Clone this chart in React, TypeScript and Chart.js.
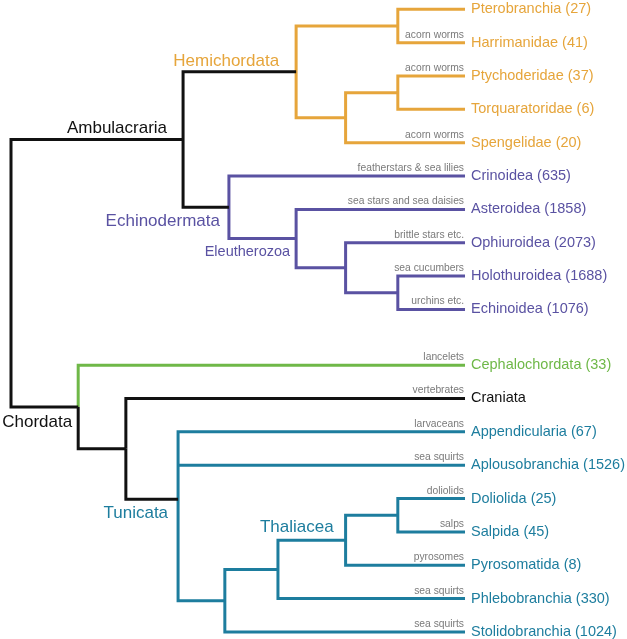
import React, { useEffect, useRef } from 'react';
import { Chart, registerables } from 'chart.js';

Chart.register(...registerables);

// ---- Leaves (top to bottom) ----
const leafNames = [
  'Pterobranchia', 'Harrimanidae', 'Ptychoderidae', 'Torquaratoridae', 'Spengelidae',
  'Crinoidea', 'Asteroidea', 'Ophiuroidea', 'Holothuroidea', 'Echinoidea',
  'Cephalochordata', 'Craniata', 'Appendicularia', 'Aplousobranchia',
  'Doliolida', 'Salpida', 'Pyrosomatida', 'Phlebobranchia', 'Stolidobranchia',
];
const speciesCounts: (number | null)[] = [
  27, 41, 37, 6, 20,
  635, 1858, 2073, 1688, 1076,
  33, null, 67, 1526,
  25, 45, 8, 330, 1024,
];
const commonNames = [
  '', 'acorn worms', 'acorn worms', '', 'acorn worms',
  'featherstars & sea lilies', 'sea stars and sea daisies', 'brittle stars etc.', 'sea cucumbers', 'urchins etc.',
  'lancelets', 'vertebrates', 'larvaceans', 'sea squirts',
  'doliolids', 'salps', 'pyrosomes', 'sea squirts', 'sea squirts',
];
const leafClades = [
  'Hemichordata', 'Hemichordata', 'Hemichordata', 'Hemichordata', 'Hemichordata',
  'Echinodermata', 'Echinodermata', 'Echinodermata', 'Echinodermata', 'Echinodermata',
  'Cephalochordata', 'Craniata', 'Tunicata', 'Tunicata',
  'Tunicata', 'Tunicata', 'Tunicata', 'Tunicata', 'Tunicata',
];
const leafDepth = 100; // tips

// ---- Internal nodes ----
const nodeNames = [
  'Root', 'Ambulacraria', 'Hemichordata', 'HemiA', 'HemiB', 'HemiC',
  'Echinodermata', 'Eleutherozoa', 'EchA', 'EchB',
  'Chordata', 'Olfactores', 'Tunicata', 'TunA', 'TunB', 'Thaliacea', 'ThalA',
];
const nodeChildren = [
  ['Ambulacraria', 'Chordata'],
  ['Hemichordata', 'Echinodermata'],
  ['HemiA', 'HemiB'],
  ['Pterobranchia', 'Harrimanidae'],
  ['HemiC', 'Spengelidae'],
  ['Ptychoderidae', 'Torquaratoridae'],
  ['Crinoidea', 'Eleutherozoa'],
  ['Asteroidea', 'EchA'],
  ['Ophiuroidea', 'EchB'],
  ['Holothuroidea', 'Echinoidea'],
  ['Cephalochordata', 'Olfactores'],
  ['Craniata', 'Tunicata'],
  ['Appendicularia', 'Aplousobranchia', 'TunA'],
  ['TunB', 'Stolidobranchia'],
  ['Thaliacea', 'Phlebobranchia'],
  ['ThalA', 'Pyrosomatida'],
  ['Doliolida', 'Salpida'],
];
const nodeDepths = [
  0, 37.9, 62.8, 85.2, 73.7, 85.2,
  48.0, 62.8, 73.7, 85.2,
  14.8, 25.3, 36.8, 47.1, 58.8, 73.7, 85.2,
];
// clade used to colour the stem leading into each internal node
const nodeStemClades = [
  'Other', 'Other', 'Other', 'Hemichordata', 'Hemichordata', 'Hemichordata',
  'Other', 'Echinodermata', 'Echinodermata', 'Echinodermata',
  'Other', 'Other', 'Other', 'Tunicata', 'Tunicata', 'Tunicata', 'Tunicata',
];

// ---- Clade labels ----
const cladeLabelTexts = ['Ambulacraria', 'Hemichordata', 'Echinodermata', 'Eleutherozoa', 'Chordata', 'Tunicata', 'Thaliacea'];
const cladeLabelColors = ['Other', 'Hemichordata', 'Echinodermata', 'Echinodermata', 'Other', 'Tunicata', 'Tunicata'];

// ---- Styles / layout ----
const cladeColors: Record<string, string> = {
  Hemichordata: '#E6A53B',
  Echinodermata: '#5A52A2',
  Cephalochordata: '#6FB848',
  Craniata: '#111111',
  Tunicata: '#1D7D9E',
  Other: '#111111',
};
const groupGap = 0.67; // extra rows between Ambulacraria and Chordata
const FONT = '"Liberation Sans", Arial, Helvetica, sans-serif';
// label placement: [node, dx from node px, dy from node px, align, fontSize]
const cladeLabelPlacement: [string, number, number, CanvasTextAlign, number][] = [
  ['Ambulacraria', -16, -11, 'right', 17],
  ['Hemichordata', -17, -11, 'right', 17],
  ['Echinodermata', -9, 14, 'right', 17],
  ['Eleutherozoa', -6, 13, 'right', 14.5],
  ['Chordata', -6, 15, 'right', 17],
  ['Tunicata', -10, 14, 'right', 17],
  ['Thaliacea', -12, -13, 'right', 17],
];

function buildTree() {
  const depth: Record<string, number> = {};
  const row: Record<string, number> = {};
  const stem: Record<string, string> = {};
  leafNames.forEach((n, i) => {
    depth[n] = leafDepth;
    row[n] = i + (i >= 10 ? groupGap : 0);
    stem[n] = leafClades[i];
  });
  const children: Record<string, string[]> = {};
  nodeNames.forEach((n, i) => {
    depth[n] = nodeDepths[i];
    children[n] = nodeChildren[i];
    stem[n] = nodeStemClades[i];
  });
  const getRow = (n: string): number => {
    if (row[n] !== undefined) return row[n];
    const c = children[n].map(getRow);
    row[n] = c.reduce((a, b) => a + b, 0) / c.length;
    return row[n];
  };
  nodeNames.forEach(getRow);
  return { depth, row, stem, children };
}

export default function App() {
  const ref = useRef<HTMLCanvasElement>(null);
  useEffect(() => {
    if (!ref.current) return;
    const { depth, row, stem, children } = buildTree();
    const datasets: any[] = [];
    const line = (pts: { x: number; y: number }[], clade: string) => {
      datasets.push({
        data: pts,
        borderColor: cladeColors[clade],
        borderWidth: 3,
        pointRadius: 0,
        showLine: true,
        tension: 0,
        borderJoinStyle: 'miter',
        borderCapStyle: 'butt',
        clip: 10,
      });
    };
    nodeNames.forEach((p) => {
      const kids = [...children[p]].sort((a, b) => row[a] - row[b]);
      const first = kids[0];
      const last = kids[kids.length - 1];
      const px = depth[p];
      if (stem[first] === stem[last]) {
        line([
          { x: depth[first], y: row[first] },
          { x: px, y: row[first] },
          { x: px, y: row[last] },
          { x: depth[last], y: row[last] },
        ], stem[first]);
      } else {
        line([
          { x: depth[first], y: row[first] },
          { x: px, y: row[first] },
          { x: px, y: row[p] },
        ], stem[first]);
        line([
          { x: px, y: row[p] },
          { x: px, y: row[last] },
          { x: depth[last], y: row[last] },
        ], stem[last]);
      }
      kids.slice(1, -1).forEach((c) => {
        line([
          { x: px, y: row[c] },
          { x: depth[c], y: row[c] },
        ], stem[c]);
      });
    });

    const labelPlugin = {
      id: 'treeLabels',
      afterDatasetsDraw(chart: any) {
        const ctx = chart.ctx as CanvasRenderingContext2D;
        const xs = chart.scales.x;
        const ys = chart.scales.y;
        ctx.save();
        const tipX = xs.getPixelForValue(leafDepth);
        leafNames.forEach((n, i) => {
          const y = ys.getPixelForValue(row[n]);
          const cnt = speciesCounts[i];
          ctx.font = `14.5px ${FONT}`;
          ctx.fillStyle = cladeColors[leafClades[i]];
          ctx.textAlign = 'left';
          ctx.textBaseline = 'middle';
          ctx.fillText(cnt != null ? `${n} (${cnt})` : n, tipX + 6, y);
          if (commonNames[i]) {
            ctx.font = `10.3px ${FONT}`;
            ctx.fillStyle = '#7a7a7a';
            ctx.textAlign = 'right';
            ctx.textBaseline = 'alphabetic';
            ctx.fillText(commonNames[i], tipX - 1, y - 5);
          }
        });
        cladeLabelTexts.forEach((t, i) => {
          const [node, dx, dy, align, size] = cladeLabelPlacement[i];
          const x = xs.getPixelForValue(depth[node]) + dx;
          const y = ys.getPixelForValue(row[node]) + dy;
          ctx.font = `${size}px ${FONT}`;
          ctx.fillStyle = cladeColors[cladeLabelColors[i]];
          ctx.textAlign = align;
          ctx.textBaseline = 'middle';
          ctx.fillText(t, x, y);
        });
        ctx.restore();
      },
    };

    const chart = new Chart(ref.current, {
      type: 'scatter',
      data: { datasets },
      options: {
        animation: false,
        responsive: false,
        maintainAspectRatio: false,
        layout: { padding: 0 },
        events: [],
        plugins: { legend: { display: false }, tooltip: { enabled: false } },
        scales: {
          x: { type: 'linear', display: false, min: -2.423, max: 135.68 },
          y: { type: 'linear', display: false, reverse: true, min: -0.279, max: 18.882 },
        },
      },
      plugins: [labelPlugin],
    });
    return () => chart.destroy();
  }, []);

  return (
    <div style={{ position: 'absolute', left: 0, top: 0, width: 627, height: 639, background: '#fff' }}>
      <canvas ref={ref} width={627} height={639} style={{ display: 'block' }} />
    </div>
  );
}
